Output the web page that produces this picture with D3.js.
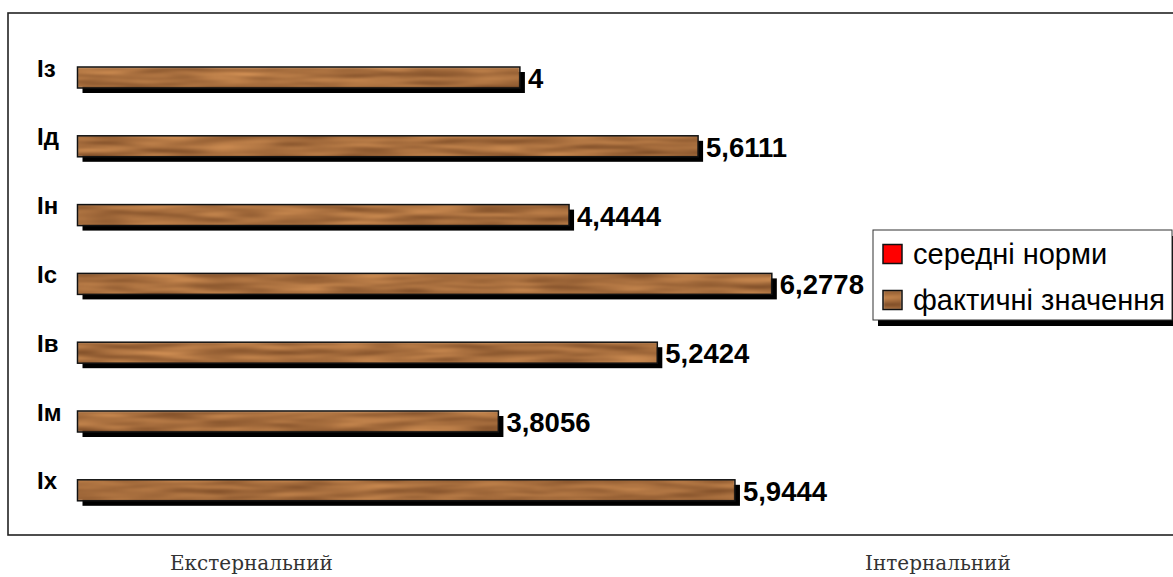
<!DOCTYPE html>
<html>
<head>
<meta charset="utf-8">
<script src="https://cdn.jsdelivr.net/npm/d3@7"></script>
<style>
  body { margin: 0; background: #fff; }
  svg { display: block; }
</style>
</head>
<body>
<svg id="chart" width="1173" height="577"></svg>
<script>
// data
var categories = ["Iз", "Iд", "Iн", "Iс", "Iв", "Iм", "Iх"];
var actualValues = [4, 5.6111, 4.4444, 6.2778, 5.2424, 3.8056, 5.9444];
var valueLabels = ["4", "5,6111", "4,4444", "6,2778", "5,2424", "3,8056", "5,9444"];
var seriesNames = ["середні норми", "фактичні значення"];
var seriesColors = ["#ff0000", "#a86c3b"];
var bottomLabels = ["Екстернальний", "Інтернальний"];

var W = 1173, H = 577;
var svg = d3.select("#chart");

// wood texture for the bars
var defs = svg.append("defs");
var wood = defs.append("filter").attr("id", "wood")
  .attr("x", 0).attr("y", 0).attr("width", 1).attr("height", 1)
  .attr("color-interpolation-filters", "sRGB");
wood.append("feTurbulence")
  .attr("type", "fractalNoise")
  .attr("baseFrequency", "0.015 0.18")
  .attr("numOctaves", 2)
  .attr("seed", 7)
  .attr("result", "noise");
wood.append("feColorMatrix").attr("in", "noise").attr("type", "matrix")
  .attr("values", "0.45 0 0 0 0.43  0.36 0 0 0 0.25  0.24 0 0 0 0.12  0 0 0 0 1")
  .attr("result", "col");
wood.append("feGaussianBlur").attr("in", "col").attr("stdDeviation", "1.2 0.8").attr("result", "soft");
wood.append("feComposite").attr("in", "soft").attr("in2", "SourceGraphic").attr("operator", "in");

// chart frame
svg.append("rect")
  .attr("x", 8).attr("y", 13)
  .attr("width", W + 20).attr("height", 522)
  .attr("fill", "none").attr("stroke", "#222").attr("stroke-width", 1.6);

var x = d3.scaleLinear().domain([0, 7]).range([77.5, 77.5 + 7 * 110.6]);
var y = d3.scaleBand().domain(categories).range([67, 500.8])
  .paddingInner(1 - 21 / 68.8).paddingOuter(0);

var bars = svg.append("g");
var data = categories.map(function(c, i){ return {cat: c, v: actualValues[i], lab: valueLabels[i]}; });

// shadows
bars.selectAll("rect.shadow").data(data).enter().append("rect")
  .attr("class", "shadow")
  .attr("x", x(0) + 5)
  .attr("y", function(d){ return y(d.cat) + 5; })
  .attr("width", function(d){ return x(d.v) - x(0); })
  .attr("height", y.bandwidth())
  .attr("fill", "#000");

// bars
bars.selectAll("rect.bar").data(data).enter().append("rect")
  .attr("class", "bar")
  .attr("x", x(0))
  .attr("y", function(d){ return y(d.cat); })
  .attr("width", function(d){ return x(d.v) - x(0); })
  .attr("height", y.bandwidth())
  .attr("fill", seriesColors[1])
  .attr("filter", "url(#wood)");

bars.selectAll("rect.edge").data(data).enter().append("rect")
  .attr("class", "edge")
  .attr("x", x(0))
  .attr("y", function(d){ return y(d.cat); })
  .attr("width", function(d){ return x(d.v) - x(0); })
  .attr("height", y.bandwidth())
  .attr("fill", "none")
  .attr("stroke", "#111").attr("stroke-width", 1.5);

// value labels
bars.selectAll("text.val").data(data).enter().append("text")
  .attr("class", "val")
  .attr("x", function(d){ return x(d.v) + 8; })
  .attr("y", function(d){ return y(d.cat) + y.bandwidth() / 2 + 10.5; })
  .attr("font-family", "Liberation Sans, Arial, sans-serif")
  .attr("font-weight", "bold")
  .attr("font-size", 27.5)
  .attr("fill", "#000")
  .text(function(d){ return d.lab; });

// category labels
var yAxis = d3.axisLeft(y).tickSize(0).tickPadding(0);
var ax = svg.append("g").attr("transform", "translate(37,0)").call(yAxis);
ax.select(".domain").remove();
ax.selectAll(".tick").attr("transform", function(d){ return "translate(0," + y(d) + ")"; });
ax.selectAll("text")
  .attr("text-anchor", "start")
  .attr("x", 0)
  .attr("dy", null)
  .attr("y", y.bandwidth() / 2 - 1)
  .attr("font-family", "Liberation Sans, Arial, sans-serif")
  .attr("font-weight", "bold")
  .attr("font-size", 24)
  .attr("fill", "#000");

// legend
var lg = svg.append("g").attr("transform", "translate(873,230)");
lg.append("rect").attr("x", 5).attr("y", 6).attr("width", 299).attr("height", 90).attr("fill", "#000");
lg.append("rect").attr("x", 0).attr("y", 0).attr("width", 299).attr("height", 90)
  .attr("fill", "#fff").attr("stroke", "#333").attr("stroke-width", 1);
seriesNames.forEach(function(name, i){
  var cy = 24 + i * 46;
  lg.append("rect").attr("x", 10).attr("y", cy - 9.5).attr("width", 19).attr("height", 19)
    .attr("fill", seriesColors[i])
    .attr("filter", i === 1 ? "url(#wood)" : null);
  lg.append("rect").attr("x", 10).attr("y", cy - 9.5).attr("width", 19).attr("height", 19)
    .attr("fill", "none").attr("stroke", "#111").attr("stroke-width", 1.5);
  lg.append("text").attr("x", 40).attr("y", cy + 10)
    .attr("font-family", "Liberation Sans, Arial, sans-serif")
    .attr("font-size", 29).attr("fill", "#000")
    .text(name);
});

// bottom labels
var bx = [170, 865];
bottomLabels.forEach(function(t, i){
  svg.append("text").attr("x", bx[i]).attr("y", 570)
    .attr("font-family", "DejaVu Serif, serif")
    .attr("font-size", 20).attr("fill", "#333")
    .text(t);
});
</script>
</body>
</html>
